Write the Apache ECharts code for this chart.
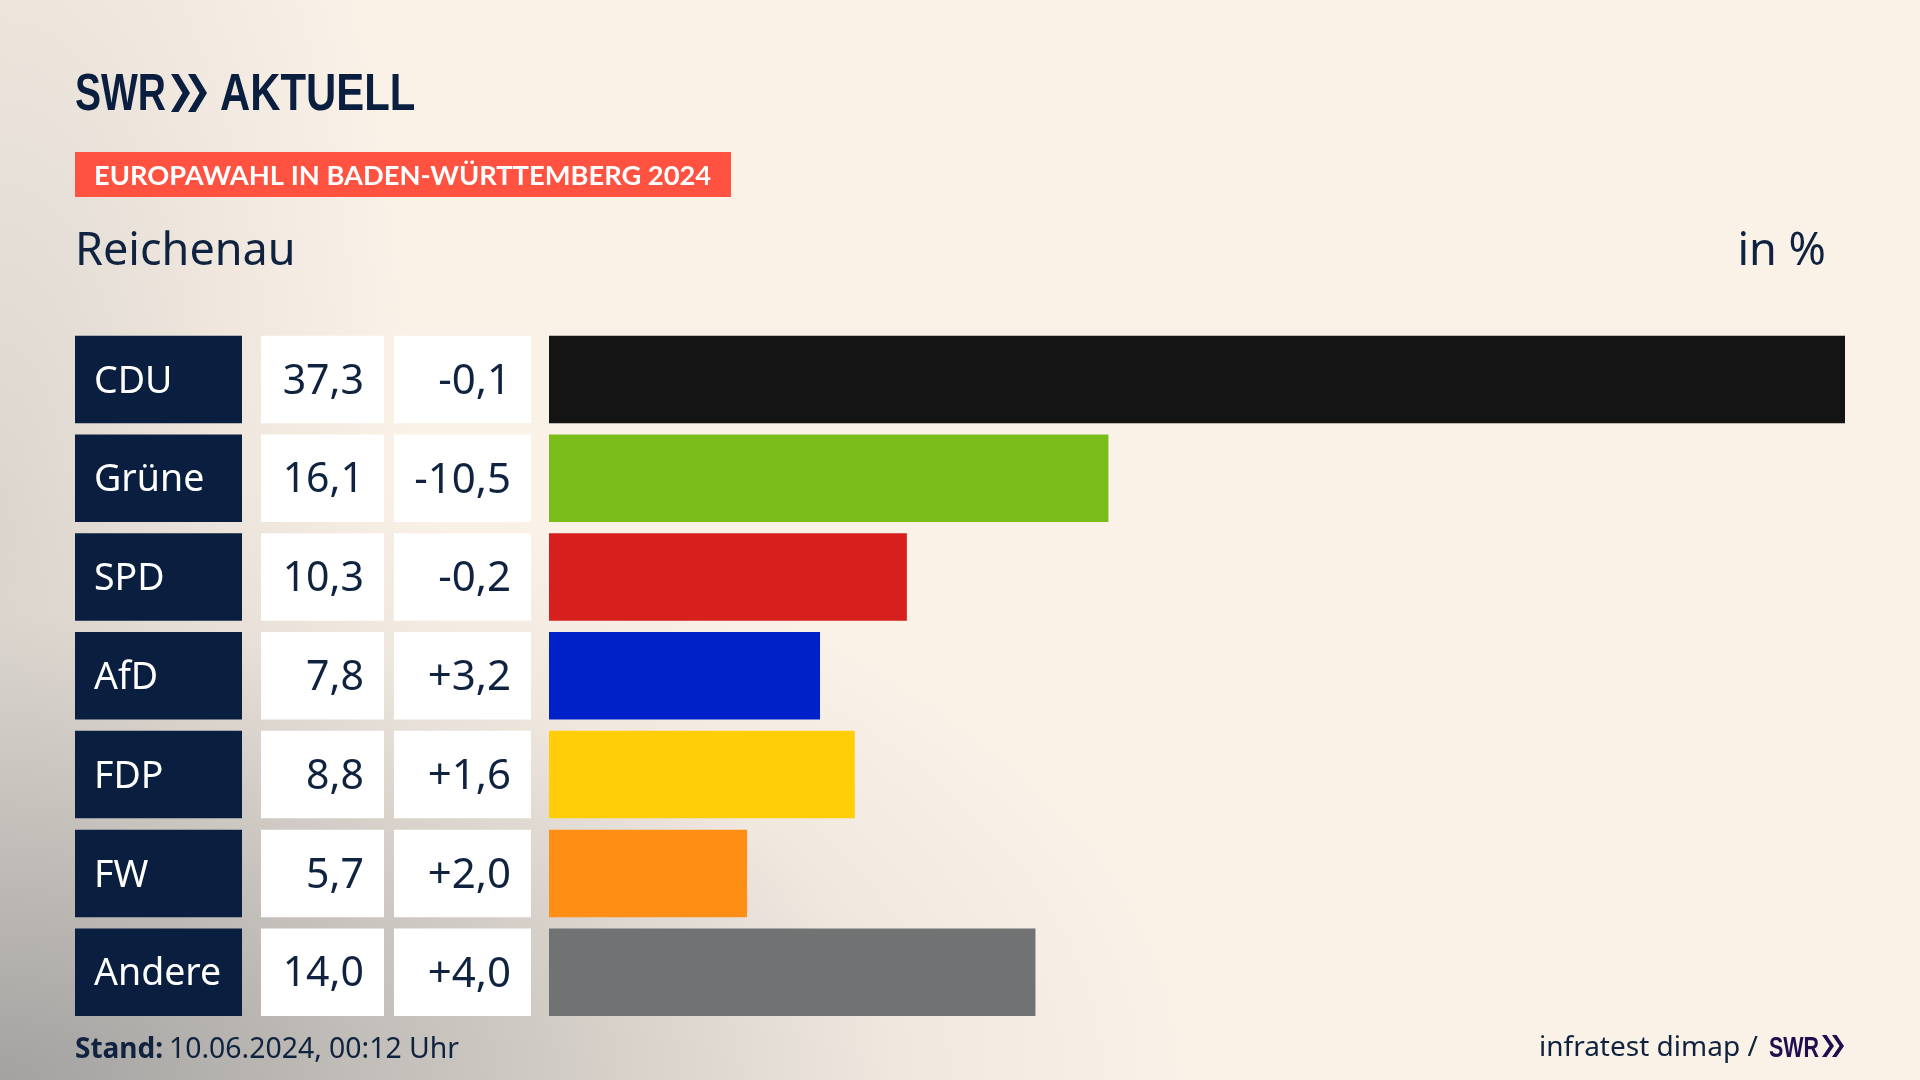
<!DOCTYPE html>
<html>
<head>
<meta charset="utf-8">
<title>Europawahl Reichenau</title>
<script src="https://cdn.jsdelivr.net/npm/echarts@6/dist/echarts.min.js"></script>
<style>
html, body { margin: 0; padding: 0; width: 1920px; height: 1080px; overflow: hidden; }
body {
    background-color: #faf1e7;
    background-image:
        radial-gradient(ellipse 1200px 620px at 0px 1080px, rgba(150,150,150,0.85) 0%, rgba(170,168,165,0.6) 40%, rgba(205,200,195,0.22) 75%, rgba(250,241,231,0) 100%),
        radial-gradient(ellipse 420px 1000px at 0px 500px, rgba(170,170,168,0.38) 0%, rgba(190,185,180,0.18) 55%, rgba(250,241,231,0) 100%);
}
#chart { width: 1920px; height: 1080px; }
</style>
</head>
<body>
<div id="chart"></div>
<script>
var parties = ['CDU', 'Grüne', 'SPD', 'AfD', 'FDP', 'FW', 'Andere'];
var results = [37.3, 16.1, 10.3, 7.8, 8.8, 5.7, 14.0];
var changes = [-0.1, -10.5, -0.2, 3.2, 1.6, 2.0, 4.0];
var partyColors = ['#141414', '#7abd1a', '#d71f1d', '#0020c8', '#ffce08', '#ff8e15', '#707274'];

var navy = '#0a1f3f';
var textColor = '#0f2340';
var logoPurple = '#1f0f4e';
var rowHeight = 87.5;
var tableTop = 330;
var tableHeight = 691.6;
var fontName = '"Noto Sans"';
var logoFont = '"Liberation Sans"';

function comma(v) {
    return v.toFixed(1).replace('.', ',');
}
function signed(v) {
    return (v > 0 ? '+' : '') + comma(v);
}

// one table column = a grid of its own, the band comes from the category axis
function cellSeries(index, labels, fill, color, left, size) {
    return {
        type: 'custom',
        xAxisIndex: index,
        yAxisIndex: index,
        silent: true,
        data: labels.map(function (t, i) { return [0, i]; }),
        renderItem: function (params, api) {
            var y = api.coord([0, params.dataIndex])[1];
            var box = params.coordSys;
            return {
                type: 'group',
                children: [{
                    type: 'rect',
                    shape: { x: box.x, y: y - rowHeight / 2, width: box.width, height: rowHeight },
                    style: { fill: fill }
                }, {
                    type: 'text',
                    style: {
                        x: left ? box.x + 19 : box.x + box.width - 20,
                        y: y + 2.5,
                        text: labels[params.dataIndex],
                        fill: color,
                        font: size + 'px ' + fontName,
                        textAlign: left ? 'left' : 'right',
                        textVerticalAlign: 'middle'
                    }
                }]
            };
        }
    };
}

function hiddenX(index, max) {
    return { type: 'value', gridIndex: index, min: 0, max: max, show: false };
}
function hiddenY(index) {
    return { type: 'category', gridIndex: index, data: parties, inverse: true, show: false };
}
function gridAt(left, width) {
    return { left: left, top: tableTop, width: width, height: tableHeight };
}

function logoText(text, x, y, size, scaleX, color) {
    return {
        type: 'text',
        x: x,
        y: y,
        scaleX: scaleX,
        style: { text: text, fill: color, font: 'bold ' + size + 'px ' + logoFont }
    };
}
function chevron(x, y, w, h, thick, color) {
    return {
        type: 'polygon',
        shape: { points: [[x, y], [x + thick, y], [x + w, y + h / 2], [x + thick, y + h], [x, y + h], [x + w - thick, y + h / 2]] },
        style: { fill: color }
    };
}

var option = {
    animation: false,
    backgroundColor: 'transparent',
    grid: [gridAt(75, 167), gridAt(261, 123), gridAt(394, 137), gridAt(549, 1296)],
    xAxis: [hiddenX(0, 1), hiddenX(1, 1), hiddenX(2, 1), hiddenX(3, 37.3)],
    yAxis: [hiddenY(0), hiddenY(1), hiddenY(2), hiddenY(3)],
    series: [
        cellSeries(0, parties, navy, '#ffffff', true, 37.5),
        cellSeries(1, results.map(comma), '#ffffff', textColor, false, 41),
        cellSeries(2, changes.map(signed), '#ffffff', textColor, false, 42),
        {
            type: 'bar',
            xAxisIndex: 3,
            yAxisIndex: 3,
            silent: true,
            barWidth: rowHeight,
            data: results.map(function (v, i) {
                return { value: v, itemStyle: { color: partyColors[i] } };
            })
        }
    ],
    graphic: [
        // SWR AKTUELL logo
        logoText('SWR', 75, 70, 52, 0.75, navy),
        chevron(171, 74, 19, 38, 7.5, navy),
        chevron(188, 74, 19, 38, 7.5, navy),
        logoText('AKTUELL', 220, 70, 52, 0.805, navy),
        // red tag
        { type: 'rect', shape: { x: 75, y: 152, width: 656, height: 45 }, style: { fill: '#ff5240' } },
        { type: 'text', left: 94, top: 163, style: { text: 'EUROPAWAHL IN BADEN-WÜRTTEMBERG 2024', fill: '#ffffff', font: 'bold 27.3px Lato' } },
        // headings
        { type: 'text', left: 75, top: 230, style: { text: 'Reichenau', fill: textColor, font: '45px ' + fontName } },
        { type: 'text', right: 94, top: 230, style: { text: 'in %', fill: textColor, font: '45px ' + fontName } },
        // footer
        { type: 'text', left: 75, top: 1036, style: { text: 'Stand:', fill: textColor, font: 'bold 28px ' + fontName } },
        { type: 'text', left: 169, top: 1036, style: { text: '10.06.2024, 00:12 Uhr', fill: textColor, font: '28.4px ' + fontName } },
        { type: 'text', left: 1539, top: 1034, style: { text: 'infratest dimap /', fill: textColor, font: '28px ' + fontName } },
        logoText('SWR', 1769, 1034, 29, 0.74, logoPurple),
        chevron(1822, 1035, 12, 22, 4.5, logoPurple),
        chevron(1832, 1035, 12, 22, 4.5, logoPurple)
    ]
};

var myChart = echarts.init(document.getElementById('chart'));
myChart.setOption(option);
window.onresize = function () {
    myChart.resize();
};
</script>
</body>
</html>
